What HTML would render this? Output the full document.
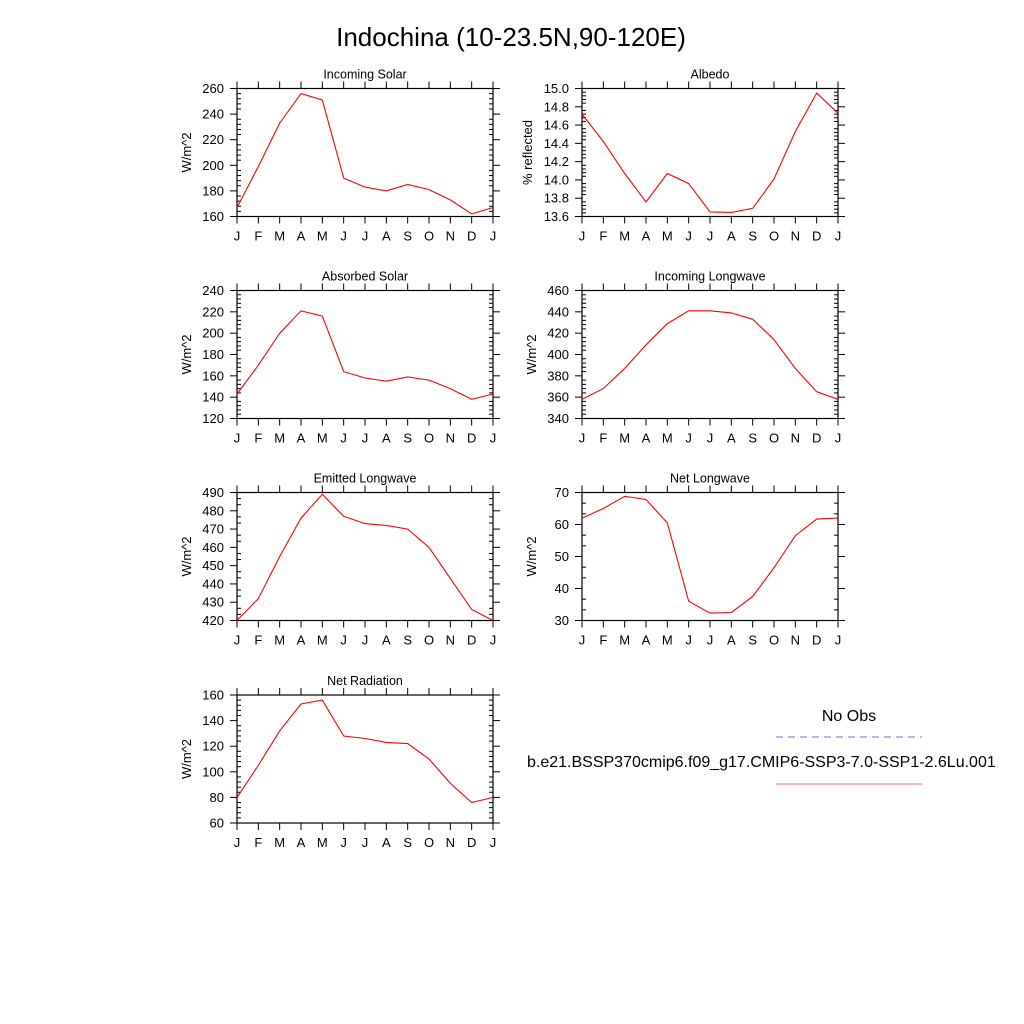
<!DOCTYPE html>
<html><head><meta charset="utf-8"><style>
html,body{margin:0;padding:0;background:#fff}
svg{display:block;font-family:"Liberation Sans",Arial,sans-serif}
</style></head><body>
<svg id="c" width="1024" height="1024" viewBox="0 0 1024 1024">
<text x="511" y="46" font-size="26" text-anchor="middle">Indochina (10-23.5N,90-120E)</text>
<g>
<text x="849" y="721" font-size="16" text-anchor="middle">No Obs</text>
<line x1="776" y1="737" x2="922" y2="737" stroke="#6a6aff" stroke-width="1" stroke-dasharray="7,5"/>
<text x="527" y="767" font-size="16">b.e21.BSSP370cmip6.f09_g17.CMIP6-SSP3-7.0-SSP1-2.6Lu.001</text>
<line x1="776" y1="784" x2="922" y2="784" stroke="#ff6a6a" stroke-width="1"/>
</g>
</svg>
<script>
const months = ["J","F","M","A","M","J","J","A","S","O","N","D","J"];
const incomingSolar = [167,199,233,256,251,190,183,180,185,181,173,162,167];
const albedo = [14.72,14.42,14.07,13.76,14.07,13.96,13.65,13.645,13.69,14.01,14.53,14.95,14.73];
const absorbedSolar = [143,170,200,221,216,164,158,155,159,156,148,138,143];
const incomingLongwave = [358,368,387,409,429,441,441,439,433,414,387,365,358];
const emittedLongwave = [420,432,455,476,489,477,473,472,470,460,443,426,420];
const netLongwave = [62,65,68.8,67.8,60.5,36,32.3,32.5,37.5,46.5,56.5,61.7,62];
const netRadiation = [80,105,132,153,156,128,126,123,122,110,91,76,80];
const incomingSolarTicks = [160,180,200,220,240,260];
const albedoTicks = [13.6,13.8,14.0,14.2,14.4,14.6,14.8,15.0];
const absorbedSolarTicks = [120,140,160,180,200,220,240];
const incomingLongwaveTicks = [340,360,380,400,420,440,460];
const emittedLongwaveTicks = [420,430,440,450,460,470,480,490];
const netLongwaveTicks = [30,40,50,60,70];
const netRadiationTicks = [60,80,100,120,140,160];

const NS="http://www.w3.org/2000/svg";
const svg=document.getElementById('c');
function mk(tag,attrs,parent){const e=document.createElementNS(NS,tag);for(const k in attrs)e.setAttribute(k,attrs[k]);parent.appendChild(e);return e;}

function panel(slug,title,ylab,vals,ticks,dec,x0,y0){
  const W=256,H=128;
  const g=mk('g',{},svg);
  
  
  const ymin=ticks[0],ymax=ticks[ticks.length-1];
  const xs=i=>x0+i*W/(months.length-1);
  const ys=v=>y0+H-(v-ymin)/(ymax-ymin)*H;
  // minor y ticks (inward)
  const step=ticks[1]-ticks[0];
  const nMinor=(step===10||step===0.2)?(step===10?2:4):4;
  for(let t=0;t<ticks.length-1;t++){
    for(let m=1;m<=nMinor;m++){
      const v=ticks[t]+step*m/(nMinor+1);
      const yy=ys(v);
      mk('line',{x1:x0,y1:yy,x2:x0+4,y2:yy,stroke:'#000','stroke-width':1},g);
      mk('line',{x1:x0+W,y1:yy,x2:x0+W-4,y2:yy,stroke:'#000','stroke-width':1},g);
    }
  }
  // major y ticks
  ticks.forEach(v=>{
    const yy=ys(v);
    mk('line',{x1:x0-7,y1:yy,x2:x0,y2:yy,stroke:'#000','stroke-width':1},g);
    mk('line',{x1:x0+W,y1:yy,x2:x0+W+7,y2:yy,stroke:'#000','stroke-width':1},g);
    const t=mk('text',{x:x0-13,y:yy+4.5,'font-size':13,'text-anchor':'end'},g);
    t.textContent=v.toFixed(dec);
    
    
  });
  // x ticks
  months.forEach((m,i)=>{
    const xx=xs(i);
    mk('line',{x1:xx,y1:y0+H,x2:xx,y2:y0+H+7,stroke:'#000','stroke-width':1},g);
    mk('line',{x1:xx,y1:y0-7,x2:xx,y2:y0,stroke:'#000','stroke-width':1},g);
    const t=mk('text',{x:xx,y:y0+H+24,'font-size':13,'text-anchor':'middle'},g);
    t.textContent=m;
    
    
  });
  const r=mk('rect',{x:x0,y:y0,width:W,height:H,fill:'none',stroke:'#000','stroke-width':1.2},g);
  
  
  const tt=mk('text',{x:x0+W/2,y:y0-10,'font-size':12.5,'text-anchor':'middle'},g);
  tt.textContent=title;
  
  
  const yl=mk('text',{x:0,y:0,'font-size':13,'text-anchor':'middle',transform:`translate(${x0-dec*4-46},${y0+H/2}) rotate(-90)`},g);
  yl.textContent=ylab;
  
  
  const pts=vals.map((v,i)=>xs(i).toFixed(1)+','+ys(v).toFixed(1)).join(' ');
  const pl=mk('polyline',{points:pts,fill:'none',stroke:'#ff0000','stroke-width':1.1},g);
  
  
}
panel('incoming-solar','Incoming Solar','W/m^2',incomingSolar,incomingSolarTicks,0,237,88.5);
panel('albedo','Albedo','% reflected',albedo,albedoTicks,1,582,88.5);
panel('absorbed-solar','Absorbed Solar','W/m^2',absorbedSolar,absorbedSolarTicks,0,237,290.5);
panel('incoming-longwave','Incoming Longwave','W/m^2',incomingLongwave,incomingLongwaveTicks,0,582,290.5);
panel('emitted-longwave','Emitted Longwave','W/m^2',emittedLongwave,emittedLongwaveTicks,0,237,492.5);
panel('net-longwave','Net Longwave','W/m^2',netLongwave,netLongwaveTicks,0,582,492.5);
panel('net-radiation','Net Radiation','W/m^2',netRadiation,netRadiationTicks,0,237,695);
</script>
</body></html>
